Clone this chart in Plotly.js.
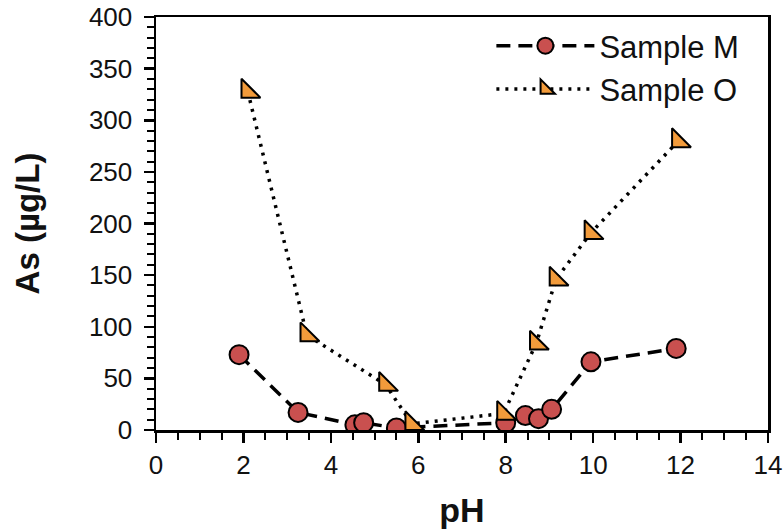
<!DOCTYPE html>
<html>
<head>
<meta charset="utf-8">
<script src="https://cdn.plot.ly/plotly-3.0.1.min.js"></script>
<style>html,body{margin:0;padding:0;background:#fff;}#chart{width:784px;height:530px;}</style>
</head>
<body>
<div id="chart"></div>
<script>
const seriesNames = ["Sample M", "Sample O"];
const phM = [1.9, 3.25, 4.55, 4.75, 5.5, 8.0, 8.45, 8.75, 9.05, 9.95, 11.9];
const asM = [73, 17, 5, 7, 2, 7, 14, 11, 20, 66, 79];
const phO = [2.1, 3.45, 5.25, 5.85, 7.95, 8.7, 9.15, 9.95, 11.95];
const asO = [328, 92, 44, 6, 16, 84, 146, 191, 280];
const xTicks = [0, 2, 4, 6, 8, 10, 12, 14];
const yTicks = [0, 50, 100, 150, 200, 250, 300, 350, 400];

const traces = [
  {
    x: phM, y: asM, name: seriesNames[0], type: "scatter", mode: "lines+markers",
    line: {color: "#000", width: 3.5, dash: "14px,8px"},
    marker: {symbol: "circle", size: 19, color: "#C9504F", line: {color: "#000", width: 2}}
  },
  {
    x: phO, y: asO, name: seriesNames[1], type: "scatter", mode: "lines+markers",
    line: {color: "#000", width: 3.5, dash: "3px,6px"},
    marker: {symbol: "triangle-sw", size: 21, color: "#F29B3B", line: {color: "#000", width: 2}}
  }
];

const font = "Liberation Sans, Arial, sans-serif";
const layout = {
  width: 784, height: 530,
  margin: {l: 156, r: 16, t: 17, b: 100},
  paper_bgcolor: "#fff", plot_bgcolor: "#fff",
  font: {family: font, color: "#111"},
  showlegend: true,
  legend: {
    x: 0.548, y: 0.995, xanchor: "left", yanchor: "top",
    font: {size: 31, family: font, color: "#111"},
    itemwidth: 98, bgcolor: "rgba(0,0,0,0)", tracegroupgap: 0
  },
  xaxis: {
    range: [0, 14], tickvals: xTicks, ticktext: xTicks.map(String),
    showgrid: false, zeroline: false,
    showline: true, linecolor: "#000", linewidth: 2.5, mirror: true,
    ticks: "outside", ticklen: 10, tickwidth: 2.5, tickcolor: "#000",
    minor: {dtick: 0.5, ticks: "outside", ticklen: 7, tickwidth: 2, tickcolor: "#000", showgrid: false},
    tickfont: {size: 26, family: font, color: "#111"},
    title: {text: "<b>pH</b>", font: {size: 34, family: font, color: "#111"}, standoff: 20}
  },
  yaxis: {
    range: [0, 400], tickvals: yTicks, ticktext: yTicks.map(String),
    showgrid: false, zeroline: false,
    showline: true, linecolor: "#000", linewidth: 2.5, mirror: true,
    ticks: "outside", ticklen: 10, tickwidth: 2.5, tickcolor: "#000",
    minor: {dtick: 10, ticks: "outside", ticklen: 7, tickwidth: 2, tickcolor: "#000", showgrid: false},
    tickfont: {size: 26, family: font, color: "#111"},
    ticklabelstandoff: 6,
    title: {text: "<b>As (µg/L)</b>", font: {size: 33, family: font, color: "#111"}, standoff: 40}
  }
};

Plotly.newPlot("chart", traces, layout, {displayModeBar: false, staticPlot: true});
</script>
</body>
</html>
